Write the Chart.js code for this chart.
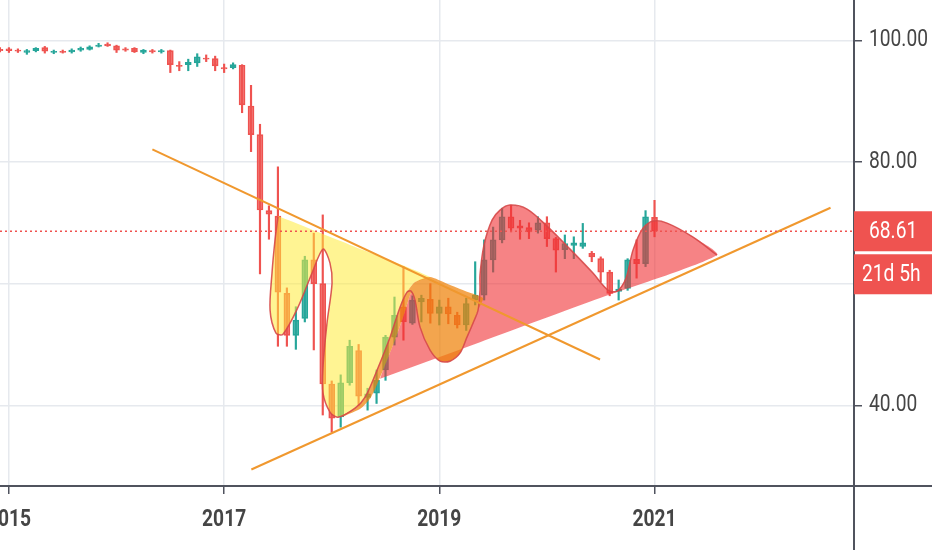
<!DOCTYPE html>
<html lang="en">
<head>
<meta charset="UTF-8">
<title>Monthly candles with drawings</title>
<script src="https://cdn.jsdelivr.net/npm/chart.js"></script>
<style>
html, body { margin: 0; padding: 0; background: #ffffff; }
#wrap { position: relative; width: 932px; height: 550px; }
</style>
</head>
<body>
<div id="wrap"><canvas id="chart"></canvas></div>
<script>
// monthly candles, first one is Dec 2014
const firstMonth = 2014 + 11 / 12;
const openPrices  = [98.5,98.6,98.4,98.0,98.3,98.8,98.0,98.2,98.1,98.4,98.5,99.0,99.4,99.1,98.6,98.7,98.0,98.3,98.1,98.3,95.9,96.0,96.3,97.1,97.0,95.5,95.5,95.9,89.2,84.5,72.0,71.1,58.4,51.5,54.3,63.9,60.0,43.5,38.1,43.7,49.0,41.3,42.0,45.8,51.2,56.2,53.5,57.0,57.4,55.1,56.2,54.8,53.2,57.3,58.1,63.9,67.2,71.0,69.5,69.2,68.8,70.0,67.4,65.6,66.3,66.1,65.0,64.1,61.9,58.7,59.2,64.0,63.3,70.9];
const highPrices  = [98.8,98.8,98.6,98.5,98.8,99.0,98.4,98.4,98.6,98.9,99.1,99.5,99.6,99.2,98.8,98.8,98.5,98.5,98.5,98.4,96.5,96.9,97.8,97.6,97.4,96.1,96.3,96.0,92.6,86.2,72.8,79.2,59.3,56.2,64.5,68.3,71.3,44.0,45.0,50.7,50.0,42.8,45.8,51.5,57.8,62.8,58.0,58.1,60.0,57.3,57.6,55.3,57.6,63.6,67.2,69.3,72.4,72.9,70.4,70.0,71.0,71.0,67.6,68.0,67.7,69.9,65.3,64.4,62.2,60.6,64.1,67.2,72.0,73.7];
const lowPrices   = [98.1,98.0,98.0,97.7,98.1,97.9,97.8,97.9,97.9,98.2,98.4,98.9,99.0,98.0,98.2,98.0,97.8,97.9,97.9,94.7,95.0,95.0,95.7,96.5,95.0,94.7,95.3,88.1,81.7,61.6,67.3,49.7,49.7,49.2,53.7,49.1,38.4,35.6,36.4,43.3,40.0,39.2,40.3,44.1,49.9,50.7,53.3,53.7,53.5,53.2,53.4,52.7,52.3,56.5,57.3,61.9,66.7,68.5,67.3,67.4,68.3,66.1,61.9,64.1,64.1,65.8,63.6,60.3,58.0,57.3,58.9,60.9,62.8,67.7];
const closePrices = [98.3,98.3,98.2,98.3,98.7,98.2,98.2,98.0,98.4,98.7,98.95,99.2,99.1,98.4,98.4,98.1,98.4,98.1,98.3,96.0,95.7,96.4,97.3,96.9,95.8,95.3,96.0,89.4,84.5,72.1,71.4,58.6,51.5,54.0,63.9,60.0,43.5,37.9,43.7,49.7,41.5,41.9,44.1,51.2,54.8,53.7,57.3,57.6,55.1,56.2,55.0,53.2,56.7,58.1,63.9,67.2,71.0,69.1,69.1,68.5,70.0,67.4,65.5,66.6,66.7,66.7,64.4,61.9,58.4,59.1,63.9,63.3,71.0,68.61];

const lastPrice = 68.61;
const countdown = '21d 5h';
const yearTicks = [2015, 2017, 2019, 2021];
const priceTicks = [40, 60, 80, 100];

// drawings, points as [year, price]
const upperTrend = [[2016.333, 82.07], [2020.494, 47.53]];
const lowerTrend = [[2017.253, 29.44], [2022.636, 72.48]];

const yellowShape = [[2017.501,71.10],[2018.170,66.37],[2018.914,61.10],[2018.774,60.25],[2018.700,58.60],[2018.635,56.13],[2018.542,51.20],[2018.421,45.77],[2018.310,41.33],[2018.217,39.52],[2018.059,38.04],[2017.984,38.87],[2017.919,41.99],[2017.919,46.27],[2017.956,53.50],[2018.003,60.08],[2017.984,63.37],[2017.919,65.67],[2017.817,61.73],[2017.687,56.13],[2017.547,51.69],[2017.482,51.86],[2017.427,55.64],[2017.445,61.73],[2017.473,67.15]];

const orangeShape = [[2018.059,38.04],[2018.217,39.52],[2018.310,41.33],[2018.421,45.77],[2018.542,51.20],[2018.635,56.13],[2018.700,58.60],[2018.774,60.25],[2018.914,61.10],[2019.072,60.00],[2019.257,58.67],[2019.406,57.62],[2019.360,55.64],[2019.313,53.50],[2019.257,51.20],[2019.192,48.57],[2019.099,47.25],[2019.007,47.25],[2018.914,49.06],[2018.821,52.85],[2018.774,57.29],[2018.737,58.44],[2018.691,55.97],[2018.598,51.20],[2018.477,45.77],[2018.365,41.33],[2018.272,39.52],[2018.114,38.21]];

const redShape = [[2018.449,44.37],[2018.477,45.77],[2018.598,51.20],[2018.691,55.97],[2018.737,58.44],[2018.774,57.29],[2018.821,52.85],[2018.914,49.06],[2019.007,47.25],[2019.099,47.25],[2019.192,48.57],[2019.257,51.20],[2019.313,53.50],[2019.360,55.64],[2019.378,58.93],[2019.378,61.40],[2019.415,66.33],[2019.490,70.44],[2019.564,72.09],[2019.657,72.91],[2019.815,72.25],[2020.001,69.46],[2020.215,65.67],[2020.428,61.73],[2020.568,58.93],[2020.651,58.77],[2020.735,60.90],[2020.800,65.51],[2020.893,69.13],[2020.986,70.28],[2021.116,69.95],[2021.358,67.65],[2021.581,64.69],[2020.494,57.62],[2019.378,50.38]];

const brushLine = [[2017.501,70.99],[2017.473,67.15],[2017.445,61.73],[2017.427,55.64],[2017.482,51.86],[2017.547,51.69],[2017.687,56.13],[2017.817,61.73],[2017.919,65.67],[2017.984,63.37],[2018.003,60.08],[2017.956,53.50],[2017.919,46.27],[2017.919,41.99],[2017.984,38.87],[2018.059,38.04],[2018.217,39.52],[2018.310,41.33],[2018.421,45.77],[2018.542,51.20],[2018.635,56.13],[2018.700,58.60],[2018.737,58.77],[2018.774,57.29],[2018.821,52.85],[2018.914,49.06],[2019.007,47.25],[2019.099,47.25],[2019.192,48.57],[2019.257,51.20],[2019.313,53.50],[2019.360,55.64],[2019.378,58.93],[2019.378,61.40],[2019.415,66.33],[2019.490,70.44],[2019.564,72.09],[2019.657,72.91],[2019.815,72.25],[2020.001,69.46],[2020.215,65.67],[2020.428,61.73],[2020.568,58.93],[2020.651,58.77],[2020.735,60.90],[2020.800,65.51],[2020.893,69.13],[2020.986,70.28],[2021.116,69.95],[2021.358,67.65],[2021.581,64.69]];

const xMin = 2014.917, xMax = 2022.854;
const yMin = 26.73, yMax = 106.63;

const FONT = "Roboto, 'Liberation Sans', sans-serif";
const SQUEEZE = 0.8; // the screenshot text is narrow
const AXIS = '#50535e';
const TEXT = '#454545';
const GRID = '#e6e9ee';
const UP = '#26a69a', DOWN = '#ef5350';
const ORANGE = '#f0982e';

const candleX = openPrices.map((_, i) => firstMonth + i / 12);
const isUp = openPrices.map((o, i) => closePrices[i] >= o);
const lineColor = isUp.map(u => u ? UP : DOWN);
const bodyColor = isUp.map(u => u ? 'rgba(38,166,154,0.75)' : 'rgba(239,83,80,0.72)');

const pts = arr => arr.map(p => ({x: p[0], y: p[1]}));
const shape = (arr, color, order) => ({
  type: 'line', data: pts(arr), fill: 'shape', backgroundColor: color,
  borderColor: 'transparent', borderWidth: 0, pointRadius: 0, tension: 0.2, order
});

function narrowText(ctx, text, x, y, align) {
  ctx.save();
  ctx.translate(x, y);
  ctx.scale(SQUEEZE, 1);
  ctx.textAlign = align;
  ctx.fillText(text, 0, 0);
  ctx.restore();
}

// tick labels, drawn narrow at the scale positions
const axisLabels = {
  id: 'axisLabels',
  afterDraw(chart) {
    const {ctx, scales: {x, y}} = chart;
    ctx.save();
    ctx.fillStyle = TEXT;
    ctx.textBaseline = 'middle';
    ctx.font = '400 24px ' + FONT;
    y.ticks.forEach(t => narrowText(ctx, t.value.toFixed(2), y.left + 15, y.getPixelForValue(t.value), 'left'));
    ctx.font = '700 24px ' + FONT;
    x.ticks.forEach(t => narrowText(ctx, String(t.value), x.getPixelForValue(t.value), x.top + 34, 'center'));
    ctx.restore();
  }
};

const priceTag = {
  id: 'priceTag',
  afterDraw(chart) {
    const {ctx, chartArea, scales: {y}} = chart;
    const py = y.getPixelForValue(lastPrice);
    const left = chartArea.right;
    ctx.save();
    ctx.strokeStyle = AXIS;
    ctx.lineWidth = 2;
    ctx.beginPath();
    ctx.moveTo(left, chartArea.bottom); ctx.lineTo(chart.width, chartArea.bottom);
    ctx.moveTo(left, chartArea.bottom); ctx.lineTo(left, chart.height);
    ctx.stroke();
    ctx.fillStyle = DOWN;
    ctx.fillRect(left, py - 20, chart.width - left, 40);
    ctx.fillRect(left, py + 23, chart.width - left, 40);
    ctx.fillStyle = '#ffffff';
    ctx.font = '400 24px ' + FONT;
    ctx.textBaseline = 'middle';
    narrowText(ctx, lastPrice.toFixed(2), left + 15, py + 1, 'left');
    narrowText(ctx, countdown, left + 8, py + 44, 'left');
    ctx.restore();
  }
};

new Chart(document.getElementById('chart'), {
  type: 'line',
  data: {
    datasets: [
      { type: 'bar', data: candleX.map((x, i) => ({x, y: [lowPrices[i], highPrices[i]]})),
        backgroundColor: lineColor, barThickness: 1.5, grouped: false, order: 10 },
      { type: 'bar', data: candleX.map((x, i) => ({x, y: [openPrices[i], closePrices[i]]})),
        backgroundColor: bodyColor, borderColor: lineColor, borderWidth: 1, borderSkipped: false,
        barThickness: 6, grouped: false, order: 9 },
      shape(yellowShape, 'rgba(255,235,59,0.55)', 8),
      shape(redShape, 'rgba(240,48,52,0.6)', 7),
      shape(orangeShape, 'rgba(238,130,10,0.72)', 6),
      { data: pts(brushLine), borderColor: 'rgba(214,72,72,0.9)', borderWidth: 1.5,
        pointRadius: 0, tension: 0.3, fill: false, order: 5 },
      { data: pts(upperTrend), borderColor: ORANGE, borderWidth: 2, pointRadius: 0, fill: false, order: 4 },
      { data: pts(lowerTrend), borderColor: ORANGE, borderWidth: 2, pointRadius: 0, fill: false, order: 4 },
      { data: [{x: xMin, y: lastPrice}, {x: xMax, y: lastPrice}], borderColor: DOWN, borderWidth: 1.5,
        borderDash: [2, 3], pointRadius: 0, fill: false, order: 3 }
    ]
  },
  options: {
    responsive: true,
    maintainAspectRatio: false,
    animation: false,
    events: [],
    layout: { padding: 0 },
    plugins: { legend: { display: false }, tooltip: { enabled: false } },
    scales: {
      x: {
        type: 'linear', min: xMin, max: xMax, offset: false,
        afterBuildTicks: s => { s.ticks = yearTicks.map(v => ({value: v})); },
        afterFit: s => { s.height = 64; s.paddingLeft = 0; s.paddingRight = 0; },
        ticks: { display: false },
        grid: { color: GRID, lineWidth: 1.5, tickColor: AXIS, tickLength: 8, offset: false },
        border: { color: AXIS, width: 2 }
      },
      y: {
        position: 'right', min: yMin, max: yMax,
        afterBuildTicks: s => { s.ticks = priceTicks.map(v => ({value: v})); },
        afterFit: s => { s.width = 78; s.paddingTop = 0; s.paddingBottom = 0; },
        ticks: { display: false },
        grid: { color: GRID, lineWidth: 1.5, tickColor: AXIS, tickLength: 8 },
        border: { color: AXIS, width: 2 }
      }
    }
  },
  plugins: [axisLabels, priceTag]
});
</script>
</body>
</html>
